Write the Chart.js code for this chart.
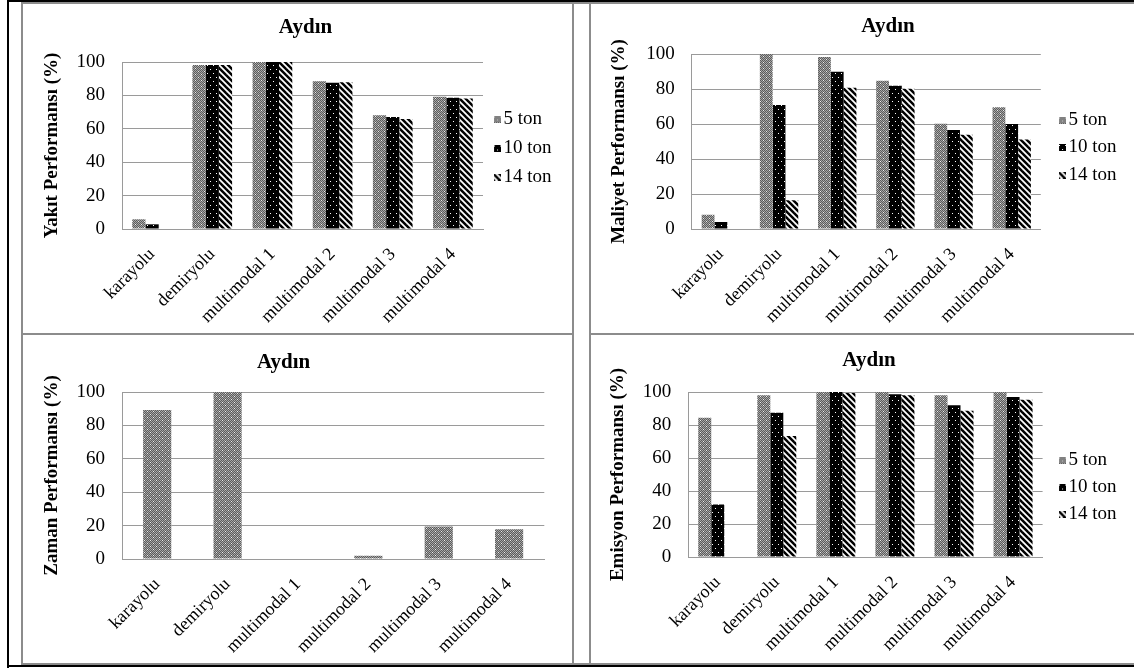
<!DOCTYPE html>
<html><head><meta charset="utf-8">
<script src="https://cdn.jsdelivr.net/npm/chart.js@4.4.1/dist/chart.umd.min.js"></script>
<style>
html,body{margin:0;padding:0;background:#fff;}
#wrap{position:relative;width:1134px;height:668px;overflow:hidden;background:#fff;}
#wrap canvas{position:absolute;}
.ln{position:absolute;}
.bk{background:#000;}
.gr{background:#8c8c8c;}
</style></head><body>
<div id="wrap">
<canvas id="c1" width="565" height="329" style="left:23px;top:4px"></canvas>
<canvas id="c2" width="594" height="329" style="left:591px;top:4px"></canvas>
<canvas id="c3" width="583" height="328" style="left:23px;top:335px"></canvas>
<canvas id="c4" width="556" height="328" style="left:591px;top:335px"></canvas>
<div class="ln bk" style="left:7px;top:0;width:2px;height:668px"></div>
<div class="ln bk" style="left:7px;top:0;width:1127px;height:2px"></div>
<div class="ln bk" style="left:7px;top:665px;width:1127px;height:2px"></div>
<div class="ln gr" style="left:21px;top:2px;width:1113px;height:2px"></div>
<div class="ln gr" style="left:21px;top:663px;width:1113px;height:2px"></div>
<div class="ln gr" style="left:21px;top:2px;width:2px;height:663px"></div>
<div class="ln gr" style="left:572px;top:2px;width:2px;height:663px"></div>
<div class="ln gr" style="left:589px;top:2px;width:2px;height:663px"></div>
<div class="ln gr" style="left:21px;top:333px;width:553px;height:2px"></div>
<div class="ln gr" style="left:589px;top:333px;width:545px;height:2px"></div>
</div>
<script>
// ---- data ----
const categories = ['karayolu', 'demiryolu', 'multimodal 1', 'multimodal 2', 'multimodal 3', 'multimodal 4'];
const seriesNames = ['5 ton', '10 ton', '14 ton'];
const yTickValues = [0, 20, 40, 60, 80, 100];
const chartTitle = 'Aydın';
const yakit5  = [5.8, 98.2, 100, 88.4, 68.1, 79.2];
const yakit10 = [2.8, 98.2, 100, 87.6, 67.1, 78.6];
const yakit14 = [0, 98.2, 100, 87.8, 65.9, 78.2];
const maliyet5  = [8.2, 100, 98.3, 84.7, 60.2, 69.6];
const maliyet10 = [4.0, 70.9, 89.9, 81.8, 56.6, 60.0];
const maliyet14 = [0, 16.4, 80.7, 80.1, 53.9, 51.2];
const zaman = [89.2, 100, 0, 2.0, 19.4, 17.8];
const emisyon5  = [84.4, 98.0, 100, 100, 98.0, 100];
const emisyon10 = [31.8, 87.4, 100, 98.6, 91.9, 97.0];
const emisyon14 = [0, 73.4, 99.4, 98.0, 88.6, 95.3];

// ---- styles ----
const FONT = "'Liberation Serif','Times New Roman',serif";
const GRID = '#9a9a9a';
const LEG_FS = 19;

function tile(w, h, fn) {
  const c = document.createElement('canvas'); c.width = w; c.height = h;
  const g = c.getContext('2d'); const im = g.createImageData(w, h);
  for (let y = 0; y < h; y++) for (let x = 0; x < w; x++) {
    const v = fn(x, y); const i = (y * w + x) * 4;
    im.data[i] = im.data[i + 1] = im.data[i + 2] = v; im.data[i + 3] = 255;
  }
  g.putImageData(im, 0, 0); return c;
}
function stripeTileMake(p, lw) {
  const c = document.createElement('canvas'); c.width = p; c.height = p;
  const g = c.getContext('2d'); g.fillStyle = '#fff'; g.fillRect(0, 0, p, p);
  g.strokeStyle = '#000'; g.lineWidth = lw;
  for (let k = -3; k <= 3; k++) { g.beginPath(); g.moveTo(k * p - p, -p); g.lineTo(k * p + 2 * p, 2 * p); g.stroke(); }
  return c;
}
const pctx = document.createElement('canvas').getContext('2d');
const greyTile = tile(6, 6, (x, y) => ((x === 1 && y === 1) || (x === 4 && y === 4)) ? 235 : ((x + y) % 2 ? 0x5c : 0xa6));
const blackTile = tile(6, 8, (x, y) => ((x === 1 && y === 1) || (x === 4 && y === 5)) ? 255 : 0);
const stripeTile = stripeTileMake(6, 2.5);
const patterns = [greyTile, blackTile, stripeTile].map(t => pctx.createPattern(t, 'repeat'));
const legendImgs = patterns.map(p => {
  const c = document.createElement('canvas'); c.width = 14; c.height = 7;
  const g = c.getContext('2d'); g.fillStyle = p; g.fillRect(7, 0, 7, 7); return c;
});

function legendPlugin(L, cLeft, cTop) {
  return {
    id: 'legendPlace',
    beforeLayout(chart) {
      const lg = chart.legend;
      if (lg && !lg.__patched) {
        const orig = lg.fit;
        lg.fit = function () { orig.call(this); this.width = L.width; };
        lg.__patched = true;
      }
    },
    afterLayout(chart) {
      const lg = chart.legend; if (!lg) return;
      const pad = L.spacing - LEG_FS;
      const left = L.boxX - cLeft - pad;
      const top = L.firstY - cTop - LEG_FS / 2 - pad;
      lg.left = left; lg.right = left + L.width;
      lg.top = top; lg.bottom = top + 3 * L.spacing + pad + 30;
    }
  };
}

function makeChart(id, o) {
  const cv = document.getElementById(id);
  const cLeft = parseFloat(cv.style.left), cTop = parseFloat(cv.style.top);
  const datasets = o.series.map((d, i) => ({
    label: o.names[i], data: d, backgroundColor: patterns[i], hoverBackgroundColor: patterns[i],
    borderWidth: 0, categoryPercentage: o.catPct, barPercentage: 1
  }));
  const plugins = o.legend ? [legendPlugin(o.legend, cLeft, cTop)] : [];
  return new Chart(cv, {
    type: 'bar',
    data: { labels: categories, datasets },
    plugins,
    options: {
      responsive: false, animation: false, devicePixelRatio: 1,
      layout: { padding: { left: 0, right: o.legend ? 0 : o.padR, top: 0, bottom: 0 } },
      plugins: {
        tooltip: { enabled: false },
        title: { display: true, text: chartTitle, color: '#000', font: { family: FONT, size: 21, weight: 'bold' }, padding: { top: o.tPad[0], bottom: o.tPad[1] } },
        legend: o.legend ? {
          display: true, position: 'right', align: 'start', fullSize: false,
          labels: {
            color: '#000', font: { family: FONT, size: LEG_FS }, padding: o.legend.spacing - LEG_FS,
            usePointStyle: true, boxWidth: 0.01,
            generateLabels(chart) {
              const items = Chart.defaults.plugins.legend.labels.generateLabels(chart);
              items.forEach((it, i) => { it.pointStyle = legendImgs[i]; it.fontColor = '#000'; });
              return items;
            }
          }
        } : { display: false }
      },
      scales: {
        x: {
          grid: { display: false, drawTicks: false },
          border: { display: true, color: GRID, width: 1 },
          ticks: { autoSkip: false, minRotation: 45, maxRotation: 45, color: '#000', padding: 15, font: { family: FONT, size: 18 } },
          afterFit(s) { s.height = o.xH; }
        },
        y: {
          min: 0, max: 100,
          grid: { color: GRID, lineWidth: 1, drawTicks: false },
          border: { display: true, color: GRID, width: 1 },
          ticks: { stepSize: 20, color: '#000', padding: 17, font: { family: FONT, size: 19 } },
          afterBuildTicks(s) { s.ticks = yTickValues.map(v => ({ value: v })); },
          afterFit(s) { s.width = o.yW; },
          title: { display: true, text: o.yTitle, color: '#000', font: { family: FONT, size: 19, weight: 'bold' }, padding: { top: o.yTP, bottom: 0 } }
        }
      }
    }
  });
}

makeChart('c1', {
  series: [yakit5, yakit10, yakit14], names: seriesNames, catPct: 0.66,
  yTitle: 'Yakıt Performansı (%)', tPad: [11.4, 21.4], yW: 99, yTP: 18, xH: 104,
  legend: { width: 105, boxX: 494, firstY: 119, spacing: 29 }
});
makeChart('c2', {
  series: [maliyet5, maliyet10, maliyet14], names: seriesNames, catPct: 0.66,
  yTitle: 'Maliyet Performansı (%)', tPad: [10.4, 14.4], yW: 100.8, yTP: 17, xH: 104,
  legend: { width: 144.2, boxX: 1059, firstY: 120, spacing: 27.5 }
});
makeChart('c3', {
  series: [zaman], names: [seriesNames[0]], catPct: 0.4,
  yTitle: 'Zaman Performansı (%)', tPad: [15.4, 16.4], yW: 99, yTP: 18, xH: 104, padR: 61.7
});
makeChart('c4', {
  series: [emisyon5, emisyon10, emisyon14], names: seriesNames, catPct: 0.66,
  yTitle: 'Emisyon Performansı (%)', tPad: [13.4, 18.4], yW: 97.2, yTP: 15.2, xH: 106,
  legend: { width: 104.4, boxX: 1059, firstY: 460, spacing: 27 }
});
</script>
</body></html>
